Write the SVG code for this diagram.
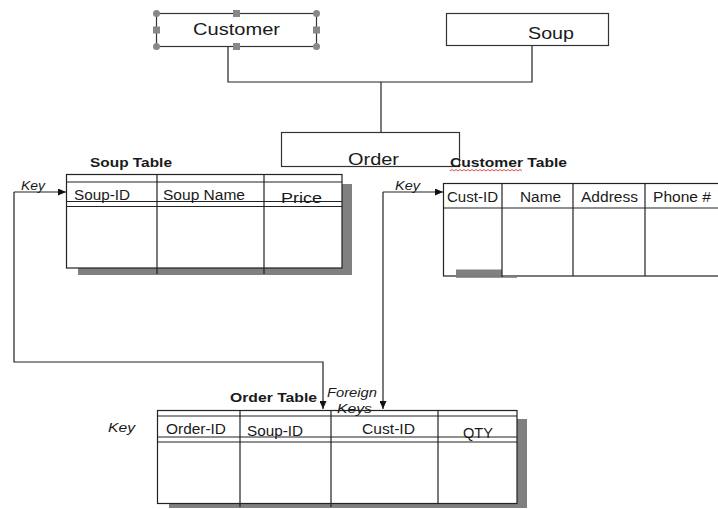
<svg xmlns="http://www.w3.org/2000/svg" width="718" height="509" viewBox="0 0 718 509">
<defs>
<style>
.box{fill:#fff;stroke:#333;stroke-width:1.2}
.ln{fill:none;stroke:#222;stroke-width:1.2}
.tl{fill:#fff;stroke:#222;stroke-width:1.2}
.sh{fill:#808080}
.hd{fill:#888}
text{font-family:"Liberation Sans",Arial,sans-serif;fill:#1a1a1a}
.big{font-size:17px}
.cell{font-size:14px}
.lbl{font-size:13px;font-weight:bold}
.key{font-size:12px;font-style:italic}
</style>
<marker id="ah" markerUnits="userSpaceOnUse" markerWidth="8" markerHeight="7" refX="8" refY="3.5" orient="auto">
<path d="M0,0 L8,3.5 L0,7 z" fill="#111"/>
</marker>
</defs>
<rect width="718" height="509" fill="#fff"/>

<g id="connectors">
<polyline class="ln" points="228,47 228,82 532,82 532,46"/>
<line class="ln" x1="381" y1="82" x2="381" y2="132"/>
<path class="ln" d="M14,192 H66" marker-end="url(#ah)"/>
<path class="ln" d="M14,192 V362 H323 V409" marker-end="url(#ah)"/>
<path class="ln" d="M383,192 H443" marker-end="url(#ah)"/>
<path class="ln" d="M383,192 V409" marker-end="url(#ah)"/>
</g>

<g id="customer">
<rect class="box" x="156.5" y="13.5" width="160" height="33"/>
<text class="big" x="193" y="35" textLength="87" lengthAdjust="spacingAndGlyphs">Customer</text>
<circle class="hd" cx="156.5" cy="13.5" r="3.5"/>
<circle class="hd" cx="316.5" cy="13.5" r="3.5"/>
<circle class="hd" cx="156.5" cy="46.5" r="3.5"/>
<circle class="hd" cx="316.5" cy="46.5" r="3.5"/>
<rect class="hd" x="233" y="10" width="7" height="7"/>
<rect class="hd" x="233" y="43" width="7" height="7"/>
<rect class="hd" x="153" y="26.5" width="7" height="7"/>
<rect class="hd" x="313" y="26.5" width="7" height="7"/>
</g>

<g id="soup">
<rect class="box" x="446.5" y="13.5" width="162" height="32"/>
<text class="big" x="528" y="39" textLength="46" lengthAdjust="spacingAndGlyphs">Soup</text>
</g>

<g id="order">
<rect class="box" x="281.5" y="132.5" width="178" height="34"/>
<text class="big" x="348" y="165" textLength="51" lengthAdjust="spacingAndGlyphs">Order</text>
</g>

<g id="soup-table">
<text class="lbl" x="90" y="167" textLength="82" lengthAdjust="spacingAndGlyphs">Soup Table</text>
<rect class="sh" x="78" y="184" width="274" height="91"/>
<rect class="tl" x="66.5" y="174.5" width="275.5" height="93.5"/>
<line class="ln" x1="66" y1="182" x2="342" y2="182"/>
<line class="ln" x1="66" y1="201.5" x2="342" y2="201.5"/>
<line class="ln" x1="66" y1="206.5" x2="342" y2="206.5"/>
<line class="ln" x1="157" y1="174" x2="157" y2="274"/>
<line class="ln" x1="264" y1="174" x2="264" y2="274"/>
<text class="cell" x="74" y="200" textLength="56" lengthAdjust="spacingAndGlyphs">Soup-ID</text>
<text class="cell" x="163" y="200" textLength="82" lengthAdjust="spacingAndGlyphs">Soup Name</text>
<text class="cell" x="281" y="203" textLength="41" lengthAdjust="spacingAndGlyphs">Price</text>
<text class="key" x="21" y="190" textLength="24" lengthAdjust="spacingAndGlyphs">Key</text>
</g>

<g id="customer-table">
<text class="lbl" x="450" y="167" textLength="117" lengthAdjust="spacingAndGlyphs">Customer Table</text>
<path d="M450,171 l2,-1.5 l2,1.5 l2,-1.5 l2,1.5 l2,-1.5 l2,1.5 l2,-1.5 l2,1.5 l2,-1.5 l2,1.5 l2,-1.5 l2,1.5 l2,-1.5 l2,1.5 l2,-1.5 l2,1.5 l2,-1.5 l2,1.5 l2,-1.5 l2,1.5 l2,-1.5 l2,1.5 l2,-1.5 l2,1.5 l2,-1.5 l2,1.5 l2,-1.5 l2,1.5 l2,-1.5 l2,1.5 l2,-1.5 l2,1.5 l2,-1.5 l2,1.5 l2,-1.5 l2,1.5" fill="none" stroke="#d33" stroke-width="0.9"/>
<rect x="443.5" y="183.5" width="280" height="92.5" fill="#fff" stroke="#222" stroke-width="1.2"/>
<rect class="sh" x="456" y="269.5" width="46" height="6"/>
<line x1="456" y1="277.5" x2="517" y2="277.5" stroke="#999" stroke-width="1"/>
<line class="ln" x1="443" y1="208" x2="718" y2="208"/>
<line class="ln" x1="502" y1="183" x2="502" y2="277"/>
<line class="ln" x1="573" y1="183" x2="573" y2="276"/>
<line class="ln" x1="645" y1="183" x2="645" y2="276"/>
<text class="cell" x="447" y="202" textLength="51" lengthAdjust="spacingAndGlyphs">Cust-ID</text>
<text class="cell" x="520" y="202" textLength="41" lengthAdjust="spacingAndGlyphs">Name</text>
<text class="cell" x="581" y="202" textLength="57" lengthAdjust="spacingAndGlyphs">Address</text>
<text class="cell" x="653" y="202" textLength="58" lengthAdjust="spacingAndGlyphs">Phone #</text>
<text class="key" x="395" y="190" textLength="25" lengthAdjust="spacingAndGlyphs">Key</text>
</g>

<g id="order-table">
<text class="lbl" x="230" y="402" textLength="87" lengthAdjust="spacingAndGlyphs">Order Table</text>
<rect class="sh" x="169" y="419" width="358" height="89"/>
<rect class="tl" x="157.5" y="410.5" width="359.5" height="93"/>
<line class="ln" x1="157" y1="416" x2="517" y2="416"/>
<line class="ln" x1="157" y1="437" x2="517" y2="437"/>
<line class="ln" x1="157" y1="442" x2="517" y2="442"/>
<line class="ln" x1="240" y1="410" x2="240" y2="507"/>
<line class="ln" x1="331" y1="410" x2="331" y2="507"/>
<line class="ln" x1="438" y1="410" x2="438" y2="503"/>
<text class="cell" x="166" y="434" textLength="60" lengthAdjust="spacingAndGlyphs">Order-ID</text>
<text class="cell" x="247" y="436" textLength="56" lengthAdjust="spacingAndGlyphs">Soup-ID</text>
<text class="cell" x="362" y="434" textLength="53" lengthAdjust="spacingAndGlyphs">Cust-ID</text>
<text class="cell" x="463" y="438" textLength="30" lengthAdjust="spacingAndGlyphs">QTY</text>
<text class="key" x="108" y="432" font-size="13" textLength="27" lengthAdjust="spacingAndGlyphs">Key</text>
<text class="key" x="327" y="397" textLength="50" lengthAdjust="spacingAndGlyphs">Foreign</text>
<text class="key" x="337" y="413" font-size="11" textLength="35" lengthAdjust="spacingAndGlyphs">Keys</text>
</g>
</svg>
